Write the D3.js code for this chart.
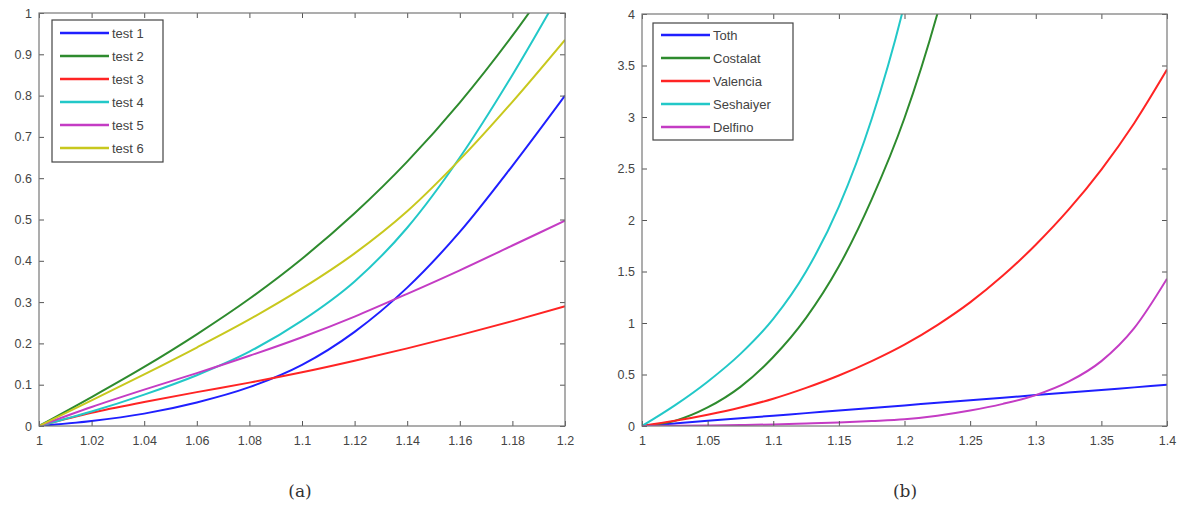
<!DOCTYPE html>
<html>
<head>
<meta charset="utf-8">
<script src="https://cdn.jsdelivr.net/npm/d3@7"></script>
<style>
  body { margin: 0; background: #fff; }
  svg { display: block; }
  .tick text { font-family: "Liberation Sans", Arial, sans-serif; font-size: 12.5px; fill: #444; }
  .legend text { font-family: "Liberation Sans", Arial, sans-serif; font-size: 13px; fill: #444; }
  .caption { font-family: "DejaVu Serif", "Liberation Serif", serif; font-size: 17px; fill: #333; }
</style>
</head>
<body>
<div id="chart"></div>
<script>
// panel (a)
const xA = [1, 1.02, 1.04, 1.06, 1.08, 1.1, 1.12, 1.14, 1.16, 1.18, 1.2];
const test1 = [0, 0.012, 0.03, 0.057, 0.094, 0.148, 0.228, 0.335, 0.47, 0.63, 0.80];
const test2 = [0, 0.07, 0.143, 0.222, 0.308, 0.405, 0.515, 0.64, 0.783, 0.945, 1.125];
const test3 = [0, 0.032, 0.058, 0.082, 0.105, 0.13, 0.158, 0.188, 0.22, 0.254, 0.29];
const test4 = [0, 0.035, 0.076, 0.123, 0.18, 0.255, 0.35, 0.48, 0.65, 0.85, 1.07];
const test5 = [0, 0.046, 0.088, 0.128, 0.17, 0.215, 0.265, 0.32, 0.377, 0.437, 0.497];
const test6 = [0, 0.062, 0.125, 0.19, 0.258, 0.333, 0.418, 0.52, 0.645, 0.785, 0.935];
const namesA = ['test 1', 'test 2', 'test 3', 'test 4', 'test 5', 'test 6'];
const xTicksA = [1, 1.02, 1.04, 1.06, 1.08, 1.1, 1.12, 1.14, 1.16, 1.18, 1.2];
const xLabelsA = ['1', '1.02', '1.04', '1.06', '1.08', '1.1', '1.12', '1.14', '1.16', '1.18', '1.2'];
const yTicksA = [0, 0.1, 0.2, 0.3, 0.4, 0.5, 0.6, 0.7, 0.8, 0.9, 1];
const yLabelsA = ['0', '0.1', '0.2', '0.3', '0.4', '0.5', '0.6', '0.7', '0.8', '0.9', '1'];

// panel (b)
const xB = [1, 1.025, 1.05, 1.075, 1.1, 1.125, 1.15, 1.175, 1.2, 1.225, 1.25, 1.275, 1.3, 1.325, 1.35, 1.375, 1.4];
const toth = [0, 0.025, 0.05, 0.075, 0.1, 0.125, 0.15, 0.175, 0.2, 0.225, 0.25, 0.275, 0.3, 0.325, 0.35, 0.375, 0.40];
const costalat = [0, 0.05, 0.18, 0.38, 0.67, 1.05, 1.55, 2.2, 2.99, 4.0, 5.25, null, null, null, null, null, null];
const valencia = [0, 0.05, 0.11, 0.18, 0.265, 0.37, 0.49, 0.63, 0.79, 0.98, 1.2, 1.46, 1.76, 2.1, 2.49, 2.94, 3.46];
const seshaiyer = [0, 0.2, 0.43, 0.7, 1.04, 1.5, 2.13, 2.98, 4.1, 5.6, null, null, null, null, null, null, null];
const delfino = [0, 0.002, 0.005, 0.01, 0.015, 0.025, 0.035, 0.048, 0.065, 0.1, 0.15, 0.215, 0.3, 0.43, 0.63, 0.95, 1.43];
const namesB = ['Toth', 'Costalat', 'Valencia', 'Seshaiyer', 'Delfino'];
const xTicksB = [1, 1.05, 1.1, 1.15, 1.2, 1.25, 1.3, 1.35, 1.4];
const xLabelsB = ['1', '1.05', '1.1', '1.15', '1.2', '1.25', '1.3', '1.35', '1.4'];
const yTicksB = [0, 0.5, 1, 1.5, 2, 2.5, 3, 3.5, 4];
const yLabelsB = ['0', '0.5', '1', '1.5', '2', '2.5', '3', '3.5', '4'];

const colorsA = ['#1f1fff', '#2e8b2e', '#ff2424', '#22c8c8', '#c43cc4', '#c8c81e'];
const colorsB = ['#1f1fff', '#2e8b2e', '#ff2424', '#22c8c8', '#c43cc4'];

const width = 1183, height = 511;
const svg = d3.select('#chart').append('svg')
  .attr('width', width)
  .attr('height', height);

function drawPanel(opts) {
  const { id, x0, x1, y0, y1, xDomain, yDomain, xs, series, names, colors,
          xTicks, xLabels, yTicks, yLabels, legend, caption, captionX } = opts;
  const x = d3.scaleLinear().domain(xDomain).range([x0, x1]);
  const y = d3.scaleLinear().domain(yDomain).range([y1, y0]);
  const g = svg.append('g');

  g.append('clipPath').attr('id', id)
    .append('rect').attr('x', x0).attr('y', y0).attr('width', x1 - x0).attr('height', y1 - y0);

  const line = d3.line()
    .defined(d => d[1] != null)
    .x(d => x(d[0]))
    .y(d => y(d[1]))
    .curve(d3.curveMonotoneX);

  g.append('g').attr('clip-path', `url(#${id})`)
    .selectAll('path')
    .data(series)
    .enter().append('path')
    .attr('d', s => line(xs.map((v, i) => [v, s[i]])))
    .attr('fill', 'none')
    .attr('stroke', (s, i) => colors[i])
    .attr('stroke-width', 2);

  // axes, ticks pointing inward like matlab
  const fmtX = v => xLabels[xTicks.indexOf(v)];
  const fmtY = v => yLabels[yTicks.indexOf(v)];
  const ax = [
    [d3.axisBottom(x).tickValues(xTicks).tickFormat(fmtX).tickSizeInner(-5).tickSizeOuter(0).tickPadding(10), `translate(0,${y1})`],
    [d3.axisTop(x).tickValues(xTicks).tickFormat('').tickSizeInner(-5).tickSizeOuter(0), `translate(0,${y0})`],
    [d3.axisLeft(y).tickValues(yTicks).tickFormat(fmtY).tickSizeInner(-5).tickSizeOuter(0).tickPadding(7), `translate(${x0},0)`],
    [d3.axisRight(y).tickValues(yTicks).tickFormat('').tickSizeInner(-5).tickSizeOuter(0), `translate(${x1},0)`]
  ];
  ax.forEach(([a, t]) => {
    const s = g.append('g').attr('transform', t).call(a);
    s.select('.domain').remove();
    s.selectAll('line').attr('stroke', '#555');
  });

  g.append('rect')
    .attr('x', x0).attr('y', y0)
    .attr('width', x1 - x0).attr('height', y1 - y0)
    .attr('fill', 'none').attr('stroke', '#777').attr('stroke-width', 1.2);

  // legend
  const lg = g.append('g').attr('class', 'legend');
  lg.append('rect')
    .attr('x', legend.x).attr('y', legend.y)
    .attr('width', legend.w).attr('height', legend.h)
    .attr('fill', '#fff').attr('stroke', '#444').attr('stroke-width', 1.2);
  names.forEach((n, i) => {
    const cy = legend.y + legend.top + i * legend.step;
    lg.append('line')
      .attr('x1', legend.x + 8).attr('x2', legend.x + 57)
      .attr('y1', cy).attr('y2', cy)
      .attr('stroke', colors[i]).attr('stroke-width', 2.5);
    lg.append('text')
      .attr('x', legend.x + 60).attr('y', cy + 4.5)
      .text(n);
  });

  svg.append('text').attr('class', 'caption')
    .attr('x', captionX).attr('y', 497)
    .attr('text-anchor', 'middle')
    .text(caption);
}

drawPanel({
  id: 'clipA', x0: 39, x1: 565, y0: 13, y1: 426,
  xDomain: [1, 1.2], yDomain: [0, 1], xs: xA,
  series: [test1, test2, test3, test4, test5, test6],
  names: namesA, colors: colorsA,
  xTicks: xTicksA, xLabels: xLabelsA, yTicks: yTicksA, yLabels: yLabelsA,
  legend: { x: 52, y: 20, w: 111, h: 142, top: 13, step: 23 },
  caption: '(a)', captionX: 300
});

drawPanel({
  id: 'clipB', x0: 642, x1: 1167, y0: 14, y1: 426,
  xDomain: [1, 1.4], yDomain: [0, 4], xs: xB,
  series: [toth, costalat, valencia, seshaiyer, delfino],
  names: namesB, colors: colorsB,
  xTicks: xTicksB, xLabels: xLabelsB, yTicks: yTicksB, yLabels: yLabelsB,
  legend: { x: 653, y: 23, w: 140, h: 117, top: 12, step: 23 },
  caption: '(b)', captionX: 905
});
</script>
</body>
</html>
